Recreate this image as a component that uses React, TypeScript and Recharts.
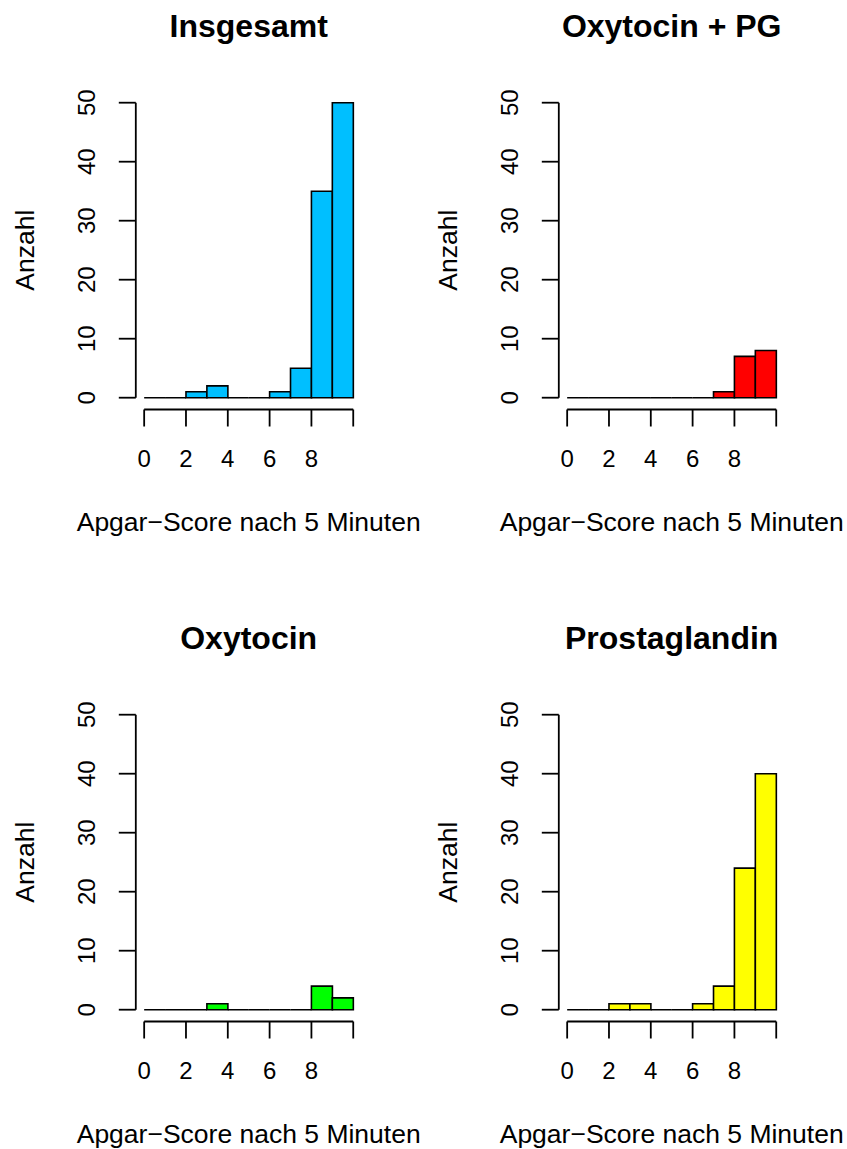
import React from "react";
import { BarChart, Bar, XAxis, YAxis, ReferenceLine } from "recharts";

// histogram bins (width 1) of the 5-minute Apgar score
const binMids = [0.5, 1.5, 2.5, 3.5, 4.5, 5.5, 6.5, 7.5, 8.5, 9.5];

const insgesamt = [0, 0, 1, 2, 0, 0, 1, 5, 35, 50];
const oxytocinPg = [0, 0, 0, 0, 0, 0, 0, 1, 7, 8];
const oxytocin = [0, 0, 0, 1, 0, 0, 0, 0, 4, 2];
const prostaglandin = [0, 0, 1, 1, 0, 0, 1, 4, 24, 40];

const xTicks = [0, 2, 4, 6, 8, 10];
const xTickLabels = ["0", "2", "4", "6", "8", ""];
const yTicks = [0, 10, 20, 30, 40, 50];

const FONT = "'Liberation Sans', Arial, Helvetica, sans-serif";

// base-graphics style: axes cover the data range, plot region 4% wider
const X_MIN = -0.4;
const X_MAX = 10.4;
const Y_MIN = -2;
const Y_MAX = 52;

const W = 423;
const H = 560;
const Y_AXIS_W = 120;
const X_AXIS_H = 130;
const MARGIN = { top: 90.9, right: 61.4, bottom: 20.5, left: 15.8 };
const PLOT_W = W - MARGIN.left - MARGIN.right - Y_AXIS_W;

const HistBar = (props: any) => {
  const { x, y, width, height, fill } = props;
  return (
    <path
      d={`M${x},${y + height}V${y}H${x + width}V${y + height}Z`}
      fill={fill}
      stroke="#000"
      strokeWidth={1.6}
    />
  );
};

const YTick = (props: any) => {
  const { x, y, payload } = props;
  return (
    <text
      x={x}
      y={y}
      transform={`rotate(-90, ${x}, ${y})`}
      textAnchor="middle"
      fontSize={24}
      fontFamily={FONT}
      fill="#000"
    >
      {payload.value}
    </text>
  );
};

function Histogram({
  title,
  counts,
  color,
  left,
  top,
}: {
  title: string;
  counts: number[];
  color: string;
  left: number;
  top: number;
}) {
  const data = binMids.map((mid, i) => ({ mid, n: counts[i] }));
  const cx = MARGIN.left + Y_AXIS_W + PLOT_W / 2;
  return (
    <div style={{ position: "absolute", left, top, width: W, height: H }}>
      <div
        style={{
          position: "absolute",
          left: cx - 200,
          width: 400,
          top: 10.2,
          textAlign: "center",
          fontFamily: FONT,
          fontWeight: "bold",
          fontSize: 32,
          lineHeight: "32px",
          whiteSpace: "nowrap",
        }}
      >
        {title}
      </div>
      <BarChart
        width={W}
        height={H}
        data={data}
        margin={MARGIN}
        barCategoryGap={0}
        barGap={0}
      >
        <XAxis
          type="number"
          dataKey="mid"
          domain={[X_MIN, X_MAX]}
          ticks={xTicks}
          tickFormatter={(v: number) => xTickLabels[xTicks.indexOf(v)]}
          height={X_AXIS_H}
          axisLine={false}
          stroke="#000"
          tickSize={17}
          tickMargin={23.8}
          tickLine={{ stroke: "#000", strokeWidth: 1.8 }}
          tick={{ fill: "#000", fontSize: 24, fontFamily: FONT }}
          interval={0}
          allowDataOverflow
          label={{
            value: "Apgar\u2212Score nach 5 Minuten",
            position: "insideBottom",
            offset: 8.5,
            fill: "#000",
            fontSize: 26.5,
            fontFamily: FONT,
          }}
        />
        <YAxis
          type="number"
          domain={[Y_MIN, Y_MAX]}
          ticks={yTicks}
          width={Y_AXIS_W}
          axisLine={false}
          stroke="#000"
          tickSize={17}
          tickMargin={23.3}
          tickLine={{ stroke: "#000", strokeWidth: 1.8 }}
          tick={<YTick />}
          interval={0}
          allowDataOverflow
          label={{
            value: "Anzahl",
            angle: -90,
            position: "insideLeft",
            offset: 9.2,
            fill: "#000",
            fontSize: 26.5,
            fontFamily: FONT,
            style: { textAnchor: "middle" },
          }}
        />
        <ReferenceLine
          segment={[
            { x: 0, y: Y_MIN },
            { x: 10, y: Y_MIN },
          ]}
          stroke="#000"
          strokeWidth={1.8}
          ifOverflow="visible"
        />
        <ReferenceLine
          segment={[
            { x: X_MIN, y: 0 },
            { x: X_MIN, y: 50 },
          ]}
          stroke="#000"
          strokeWidth={1.8}
          ifOverflow="visible"
        />
        <Bar
          dataKey="n"
          fill={color}
          shape={<HistBar />}
          isAnimationActive={false}
        />
      </BarChart>
    </div>
  );
}

export default function App() {
  return (
    <div
      style={{
        position: "absolute",
        left: 0,
        top: 0,
        width: 847,
        height: 1149,
        overflow: "hidden",
        background: "#fff",
      }}
    >
      <Histogram title="Insgesamt" counts={insgesamt} color="#00BFFF" left={0} top={0} />
      <Histogram title="Oxytocin + PG" counts={oxytocinPg} color="#FF0000" left={423} top={0} />
      <Histogram title="Oxytocin" counts={oxytocin} color="#00FF00" left={0} top={611.6} />
      <Histogram title="Prostaglandin" counts={prostaglandin} color="#FFFF00" left={423} top={611.6} />
    </div>
  );
}
